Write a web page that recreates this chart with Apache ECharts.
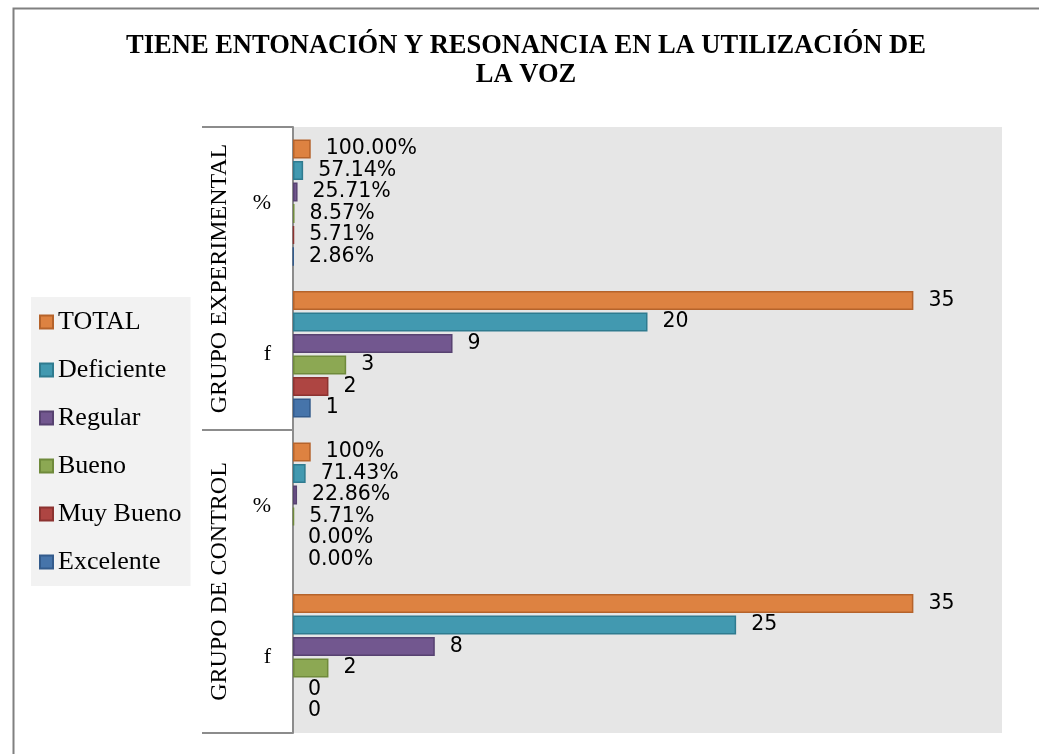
<!DOCTYPE html>
<html>
<head>
<meta charset="utf-8">
<script src="https://cdn.jsdelivr.net/npm/echarts@6/dist/echarts.min.js"></script>
<style>
html,body{margin:0;padding:0;background:#fff;}
#chart{width:1039px;height:754px;}
</style>
</head>
<body>
<div id="chart"></div>
<script>
// Categories, bottom to top
const categories = ['Control f', 'Control %', 'Experimental f', 'Experimental %'];
const tickLabels = ['f', '%', 'f', '%'];
const groups = ['GRUPO DE CONTROL', 'GRUPO EXPERIMENTAL'];
const seriesNames = ['TOTAL', 'Deficiente', 'Regular', 'Bueno', 'Muy Bueno', 'Excelente'];

// values per series, in category order (% rows as fractions)
const total      = [35, 1.00,  35, 1.00];
const deficiente = [25, 0.7143, 20, 0.5714];
const regular    = [8, 0.2286, 9,  0.2571];
const bueno      = [2, 0.0571, 3,  0.0857];
const muyBueno   = [0, 0,      2,  0.0571];
const excelente  = [0, 0,      1,  0.0286];
const values = [total, deficiente, regular, bueno, muyBueno, excelente];

const fills   = ['#DD8241', '#4299B0', '#72578F', '#8CA853', '#AE4542', '#4674AA'];
const borders = ['#B5632B', '#2F7B8F', '#574271', '#6F8A3B', '#8C3330', '#335B8C'];

function fmt(p) {
  const cat = categories[p.dataIndex];
  if (cat.indexOf('%') < 0) return String(p.value);
  if (cat === 'Control %' && p.value === 1) return '100%';
  return (p.value * 100).toFixed(2) + '%';
}

const chart = echarts.init(document.getElementById('chart'));
chart.setOption({
  backgroundColor: '#fff',
  animation: false,
  title: {
    text: 'TIENE ENTONACIÓN Y RESONANCIA EN LA UTILIZACIÓN DE\nLA VOZ',
    left: 526, top: 32, textAlign: 'center', padding: 0,
    textStyle: { fontFamily: 'Liberation Serif', fontWeight: 'bold', fontSize: 26.5, lineHeight: 29, color: '#000' }
  },
  legend: {
    orient: 'vertical',
    left: 31, top: 297,
    data: seriesNames,
    icon: 'rect',
    backgroundColor: '#f2f2f2',
    padding: [12, 9, 11, 8],
    itemWidth: 13, itemHeight: 13,
    itemGap: 22,
    textStyle: { fontFamily: 'Liberation Serif', fontSize: 26, lineHeight: 26, color: '#000' }
  },
  graphic: [{
    type: 'rect', silent: true, z: 100,
    shape: { x: 13.5, y: 8.5, width: 1200, height: 900 },
    style: { fill: 'none', stroke: '#808080', lineWidth: 2 }
  }],
  grid: {
    left: 293, right: 37, top: 127, bottom: 21,
    show: true, backgroundColor: '#e6e6e6', borderWidth: 0
  },
  xAxis: { type: 'value', min: 0, max: 40, show: false },
  yAxis: [{
    type: 'category',
    data: categories,
    position: 'left',
    axisLine: { show: true, lineStyle: { color: '#8c8c8c', width: 2 } },
    axisTick: { show: false },
    axisLabel: {
      interval: 0,
      formatter: (v, i) => tickLabels[i],
      fontFamily: 'Liberation Serif', fontSize: 22, color: '#000', margin: 22
    }
  }, {
    type: 'category',
    data: groups,
    position: 'left',
    offset: 91,
    axisLine: { show: false },
    axisTick: { show: true, interval: 0, inside: true, length: 91, lineStyle: { color: '#8c8c8c', width: 2 } },
    axisLabel: {
      interval: 0, inside: true, rotate: 90, margin: 6,
      fontFamily: 'Liberation Serif', fontSize: 24, color: '#000'
    }
  }],
  series: seriesNames.map((name, k) => ({
    name: name,
    type: 'bar',
    yAxisIndex: 0,
    data: values[k].map(v => v === 0 ? { value: 0, itemStyle: { borderWidth: 0 } } : v),
    barWidth: 19,
    barGap: '13%',
    itemStyle: { color: fills[k], borderColor: borders[k], borderWidth: 1.5 },
    label: {
      show: true, position: 'right', distance: 15,
      formatter: fmt,
      fontFamily: 'DejaVu Sans', fontSize: 20.5, color: '#000'
    }
  }))
});
</script>
</body>
</html>
